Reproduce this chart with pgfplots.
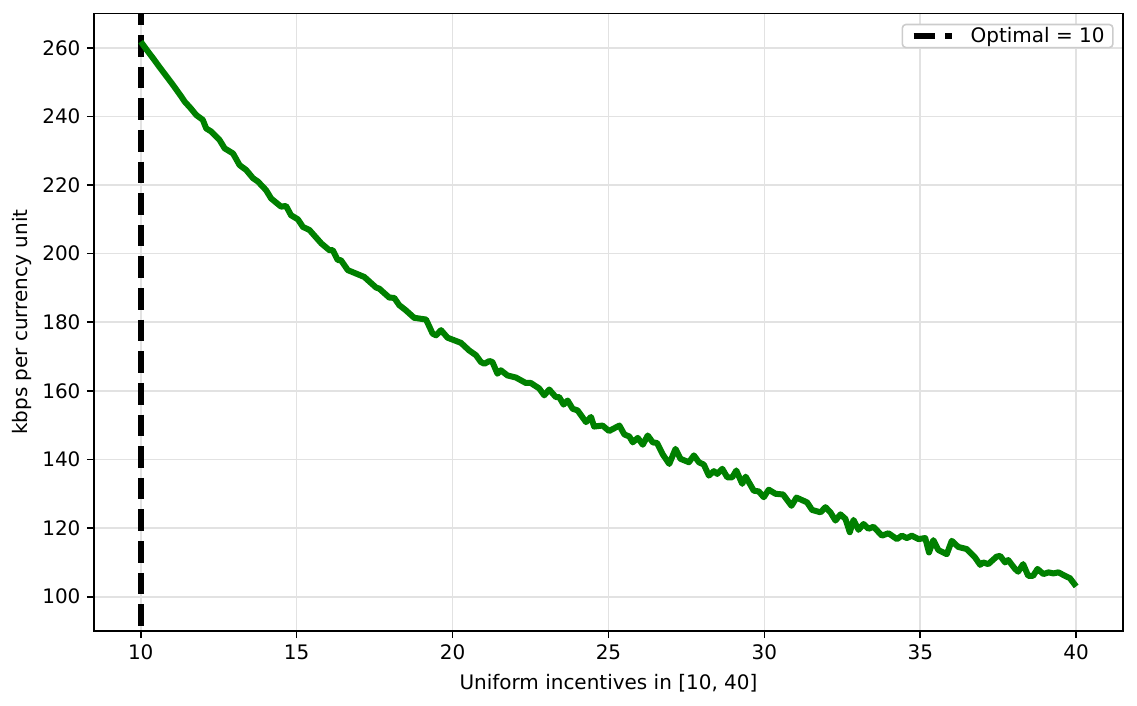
\documentclass[border=0pt]{standalone}
\usepackage{fontspec}
\setmainfont{DejaVu Sans}
\usepackage{pgfplots}
\pgfplotsset{compat=1.18}
\definecolor{mplgreen}{RGB}{0,128,0}
\definecolor{gridgray}{RGB}{226,226,226}
\definecolor{legframe}{RGB}{204,204,204}

\begin{document}
\begin{tikzpicture}
\useasboundingbox (-50.8bp,-40bp) rectangle (563.8bp,341.1bp);
\begin{axis}[
    scale only axis,
    width=556.2bp, height=333.8bp,
    xmin=8.5, xmax=41.5,
    ymin=90, ymax=270,
    xtick={10,15,20,25,30,35,40},
    ytick={100,120,140,160,180,200,220,240,260},
    tick align=outside,
    major tick length=3.8bp,
    tick style={line width=0.86bp, black},
    axis line style={line width=0.86bp, black},
    xtick pos=bottom, ytick pos=left,
    grid=major,
    major grid style={line width=0.86bp, gridgray},
    /pgf/number format/assume math mode=true,
    ticklabel style={font=\fontsize{10.8bp}{13bp}\selectfont},
    label style={font=\fontsize{10.8bp}{13bp}\selectfont},
    xlabel={Uniform incentives in [10, 40]},
    ylabel={kbps per currency unit},
    xlabel style={at={(axis description cs:0.5,-0.0839)}, anchor=center},
    ylabel style={at={(axis description cs:-0.0701,0.5)}, anchor=center},
    legend style={at={(1,1)}, anchor=north east, xshift=-5bp, yshift=-5.5bp,
        draw=legframe, rounded corners=2bp, fill=white, line width=0.86bp,
        font=\fontsize{10.8bp}{13bp}\selectfont,
        inner xsep=4.5bp, inner ysep=1.4bp,
        nodes={inner sep=0pt}, column sep=8.5bp},
    legend cell align=left,
    legend image code/.code={\draw[#1, dash phase=0bp] (0bp,0bp) -- (20.7bp,0bp);},
]
% optimal incentive, drawn from the top down so the dash phase matches
\addplot[black, line width=3.25bp, dash pattern=on 11.7bp off 5.4bp, dash phase=5.5bp] coordinates {(10,270) (10,90)};
\addlegendentry{Optimal = 10}

\addplot[mplgreen, line width=3.25bp, line join=round, forget plot] coordinates {
(10.00,261.8) (10.2,259.3) (10.4,256.9) (10.6,254.4) (10.8,252.0) (11.0,249.6)
(11.15,247.7) (11.3,245.8) (11.41,244.3) (11.6,242.4) (11.78,240.4) (11.99,239.0)
(12.1,236.5) (12.26,235.6) (12.53,233.1) (12.69,230.7) (12.96,229.2) (13.17,225.8)
(13.38,224.4) (13.6,222.0) (13.76,221.0) (14.02,218.5) (14.18,216.1) (14.5,213.7)
(14.66,213.9) (14.82,211.2) (15.04,210.0) (15.2,207.8) (15.41,206.9) (15.79,203.0)
(16.05,201.0) (16.16,201.0) (16.32,198.1) (16.42,198.1) (16.64,195.2) (17.17,193.2)
(17.55,190.1) (17.65,189.8) (17.97,187.2) (18.13,187.1) (18.29,185.0) (18.5,183.5)
(18.77,181.3) (19.15,180.8) (19.36,176.7) (19.47,176.2) (19.63,177.7) (19.84,175.5)
(20.27,174.0) (20.53,171.8) (20.75,170.4) (20.91,168.4) (21.02,167.9) (21.18,168.7)
(21.28,168.4) (21.44,165.0) (21.55,166.0) (21.76,164.5) (22.03,163.9) (22.35,162.3)
(22.51,162.3) (22.78,160.7) (22.94,158.7) (23.1,160.4) (23.31,158.2) (23.42,158.2)
(23.56,156.0) (23.69,157.2) (23.85,154.8) (24.01,154.3) (24.28,150.9) (24.44,152.4)
(24.54,149.6) (24.81,149.9) (25.02,148.3) (25.35,149.9) (25.51,147.3) (25.67,146.7)
(25.78,145.0) (25.94,146.3) (26.1,144.3) (26.26,147.0) (26.42,145.0) (26.56,144.8)
(26.74,141.5) (26.95,138.7) (27.15,143.1) (27.31,140.2) (27.58,139.2) (27.74,141.2)
(27.9,139.2) (28.06,138.5) (28.22,135.3) (28.38,136.6) (28.49,135.8) (28.65,137.3)
(28.81,134.8) (28.97,134.8) (29.1,136.8) (29.29,132.9) (29.4,135.0) (29.66,130.9)
(29.82,130.7) (29.98,129.0) (30.14,131.2) (30.36,130.0) (30.6,129.8) (30.87,126.5)
(31.03,128.9) (31.37,127.5) (31.53,125.3) (31.8,124.6) (31.96,126.1) (32.12,124.6)
(32.28,122.2) (32.44,124.0) (32.6,122.7) (32.74,118.8) (32.86,122.4) (33.02,119.5)
(33.18,121.2) (33.34,119.8) (33.5,120.4) (33.77,117.8) (33.98,118.5) (34.25,116.8)
(34.41,117.8) (34.57,117.1) (34.73,117.8) (34.94,116.8) (35.16,117.1) (35.28,112.9)
(35.42,116.5) (35.58,113.6) (35.85,112.4) (36.01,116.3) (36.22,114.5) (36.49,113.9)
(36.76,111.4) (36.92,109.3) (37.02,110.0) (37.18,109.5) (37.45,111.7) (37.56,111.9)
(37.72,110.0) (37.82,110.7) (38.04,108.1) (38.14,107.3) (38.3,109.5) (38.46,106.1)
(38.62,106.1) (38.76,108.1) (38.95,106.6) (39.11,107.1) (39.27,106.8) (39.43,107.1)
(39.64,106.1) (39.8,105.4) (40.0,103.0)
};
\end{axis}
\end{tikzpicture}
\end{document}
